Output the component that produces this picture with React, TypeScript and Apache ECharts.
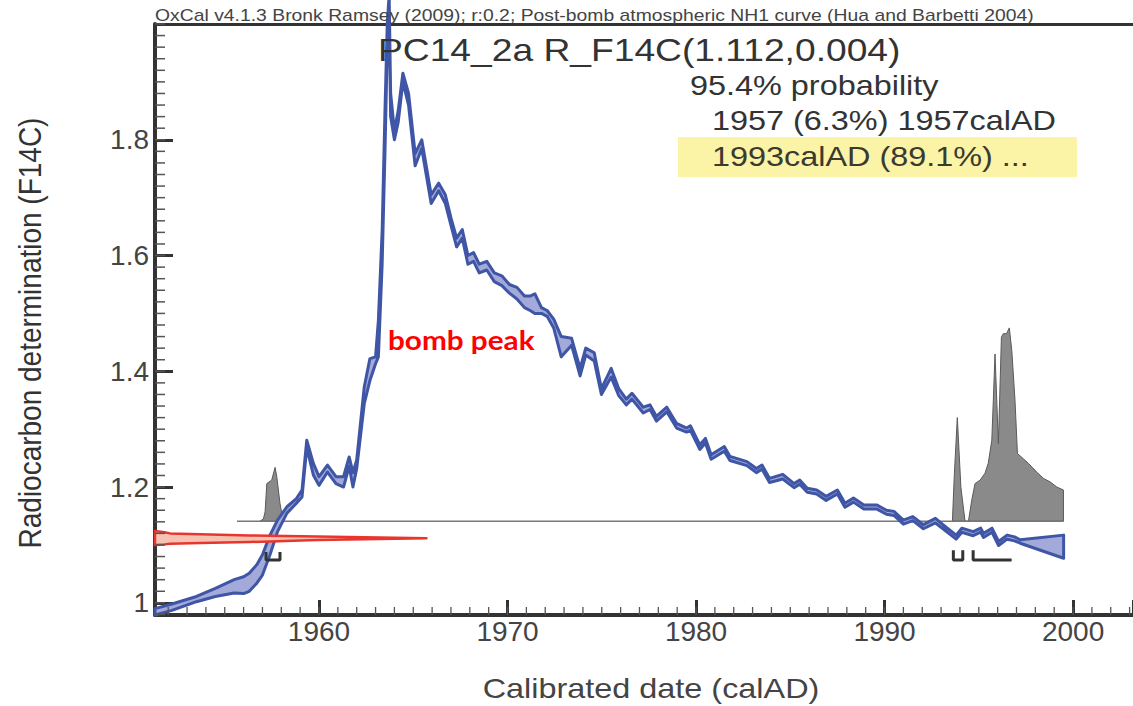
import React, { useEffect, useRef } from "react";
import * as echarts from "echarts";

// ---------- texts ----------
const headerText =
  "OxCal v4.1.3 Bronk Ramsey (2009); r:0.2; Post-bomb atmospheric NH1 curve (Hua and Barbetti 2004)";
const titleText = "PC14_2a R_F14C(1.112,0.004)";
const probLines = ["95.4% probability", "1957 (6.3%) 1957calAD", "1993calAD (89.1%) ..."];
const xTitle = "Calibrated date (calAD)";
const yTitle = "Radiocarbon determination (F14C)";
const annotationText = "bomb peak";

// ---------- axes ----------
const xMin = 1951.3;
const xMax = 2003.18;
const yMin = 0.979;
const yMax = 2.0;
const xMajorTicks = [1960, 1970, 1980, 1990, 2000];
const yMajorTicks = [1.0, 1.2, 1.4, 1.6, 1.8];

// ---------- calibration curve (NH1 band) ----------
const curveYears = [
  1951.3, 1952.2, 1953.5, 1954.5, 1955.5, 1956.0, 1956.3, 1956.7, 1957.0, 1957.4, 1957.8, 1958.3,
  1958.8, 1959.1, 1959.35, 1959.7, 1960.0, 1960.45, 1960.9, 1961.3, 1961.6, 1961.8, 1962.0, 1962.4,
  1962.7, 1963.0, 1963.15, 1963.35, 1963.5, 1963.62, 1963.72, 1963.8, 1964.0, 1964.2, 1964.45,
  1964.75, 1965.1, 1965.45, 1965.95, 1966.35, 1966.7, 1967.0, 1967.3, 1967.6, 1967.9, 1968.2,
  1968.5, 1968.9, 1969.3, 1969.7, 1970.1, 1970.5, 1970.9, 1971.2, 1971.45, 1971.8, 1972.1, 1972.45,
  1972.85, 1973.4, 1973.85, 1974.15, 1974.6, 1974.98, 1975.5, 1975.9, 1976.3, 1976.6, 1977.2,
  1977.56, 1977.9, 1978.45, 1978.97, 1979.5, 1979.7, 1980.2, 1980.5, 1980.8, 1981.5, 1981.8, 1982.7,
  1983.2, 1983.5, 1983.9, 1984.6, 1985.2, 1985.5, 1985.9, 1986.4, 1986.9, 1987.5, 1987.9, 1988.35,
  1988.9, 1989.6, 1990.1, 1990.5, 1991.0, 1991.5, 1992.06, 1992.7, 1993.1, 1993.8, 1994.1, 1994.7,
  1995.1, 1995.25, 1995.7, 1996.05, 1996.5, 1996.9, 1997.2, 1999.5,
];
const curveUpper = [
  0.99, 0.998, 1.011, 1.025, 1.04, 1.045, 1.051, 1.066, 1.083, 1.117, 1.143, 1.166, 1.18, 1.195,
  1.281, 1.241, 1.218, 1.238, 1.218, 1.218, 1.252, 1.225, 1.247, 1.373, 1.422, 1.425, 1.488, 1.643,
  1.85, 2.0, 2.05, 1.88, 1.815, 1.85, 1.915, 1.88, 1.776, 1.8, 1.705, 1.725, 1.705, 1.665, 1.63,
  1.645, 1.6, 1.605, 1.585, 1.59, 1.57, 1.565, 1.55, 1.545, 1.53, 1.53, 1.534, 1.51, 1.505, 1.49,
  1.46, 1.457, 1.405, 1.44, 1.432, 1.37, 1.405, 1.37, 1.352, 1.362, 1.338, 1.342, 1.322, 1.338,
  1.31, 1.302, 1.306, 1.273, 1.284, 1.256, 1.27, 1.253, 1.244, 1.232, 1.238, 1.215, 1.222, 1.206,
  1.212, 1.198, 1.195, 1.184, 1.195, 1.172, 1.181, 1.169, 1.169, 1.16, 1.158, 1.143, 1.149, 1.135,
  1.146, 1.135, 1.117, 1.129, 1.123, 1.129, 1.12, 1.129, 1.106, 1.117, 1.114, 1.109, 1.117,
];
const curveLower = [
  0.979, 0.987, 1.002, 1.011, 1.017, 1.016, 1.02, 1.034, 1.048, 1.083, 1.123, 1.155, 1.172, 1.183,
  1.268, 1.221, 1.203, 1.226, 1.206, 1.2, 1.236, 1.2, 1.232, 1.344, 1.384, 1.413, 1.425, 1.586, 1.78,
  1.96, 2.02, 1.84, 1.8, 1.83, 1.9, 1.86, 1.755, 1.785, 1.69, 1.712, 1.69, 1.652, 1.615, 1.63, 1.585,
  1.59, 1.57, 1.575, 1.555, 1.548, 1.535, 1.525, 1.51, 1.505, 1.5, 1.5, 1.495, 1.475, 1.425, 1.445,
  1.392, 1.428, 1.418, 1.36, 1.39, 1.358, 1.342, 1.352, 1.328, 1.334, 1.314, 1.33, 1.302, 1.295,
  1.298, 1.265, 1.276, 1.248, 1.262, 1.246, 1.237, 1.225, 1.231, 1.208, 1.214, 1.199, 1.205, 1.191,
  1.188, 1.177, 1.188, 1.165, 1.174, 1.162, 1.162, 1.153, 1.151, 1.136, 1.142, 1.128, 1.138, 1.128,
  1.11, 1.122, 1.116, 1.122, 1.113, 1.122, 1.099, 1.11, 1.107, 1.103, 1.077,
];

// ---------- measurement distribution (red, on the y axis) ----------
const measYears = [1951.3, 1951.8, 1952.1, 1953.7, 1956.3, 1959.9, 1965.7];
const measUpper = [1.124, 1.122, 1.12, 1.1185, 1.1165, 1.1145, 1.1115];
const measLower = [1.1, 1.101, 1.102, 1.1035, 1.105, 1.1085, 1.1115];

// ---------- posterior distribution (grey) ----------
const postBase = 1.141;
const postYearsA = [1956.87, 1957.05, 1957.14, 1957.23, 1957.49, 1957.67, 1957.76, 1957.93, 1958.1];
const postValsA = [1.141, 1.145, 1.157, 1.206, 1.212, 1.234, 1.218, 1.172, 1.141];
const postYearsB = [
  1993.6, 1993.7, 1993.86, 1994.05, 1994.27, 1994.45, 1994.63, 1994.8, 1995.07, 1995.33, 1995.5,
  1995.69, 1995.77, 1995.86, 1996.04, 1996.2, 1996.3, 1996.47, 1996.62, 1996.75, 1996.92, 1997.05,
  1997.36, 1997.63, 1998.07, 1998.43, 1998.78, 1999.14, 1999.49,
];
const postValsB = [
  1.141, 1.22, 1.32, 1.2, 1.141, 1.141, 1.178, 1.206, 1.212, 1.224, 1.241, 1.281, 1.35, 1.43, 1.275,
  1.459, 1.465, 1.465, 1.475, 1.436, 1.35, 1.258, 1.249, 1.241, 1.226, 1.215, 1.209, 1.2, 1.195,
];
const baselineYears = [1955.65, 1999.49];

// ---------- 95.4% ranges ----------
const rangeStarts = [1957.19, 1993.65, 1994.7];
const rangeEnds = [1957.93, 1994.15, 1996.74];
const rangeTop = [1.088, 1.091, 1.091];
const rangeBottom = 1.074;

const FONT = "'Liberation Sans', Arial, Helvetica, sans-serif";

// tick lengths in pixels, converted through the grid scale
const PX_PER_YEAR = 978 / (xMax - xMin);
const PX_PER_UNIT = 591 / (yMax - yMin);

function bandSeries(name: string, xs: number[], top: number[], bottom: number[], style: any, z: number) {
  const mid = Math.floor(xs.length / 2);
  return {
    type: "custom",
    name,
    xAxisIndex: 0,
    yAxisIndex: 0,
    silent: true,
    clip: false,
    z,
    data: [[xs[mid], top[mid]]],
    renderItem: (_params: any, api: any) => {
      const pts: number[][] = [];
      for (let i = 0; i < xs.length; i++) pts.push(api.coord([xs[i], top[i]]));
      for (let i = xs.length - 1; i >= 0; i--) pts.push(api.coord([xs[i], bottom[i]]));
      return { type: "polygon", shape: { points: pts }, style };
    },
  };
}

export default function App() {
  const ref = useRef<HTMLDivElement>(null);

  useEffect(() => {
    if (!ref.current) return;
    const chart = echarts.init(ref.current, undefined, { renderer: "svg" });

    const yearTicks: number[] = [];
    for (let y = 1952; y <= 2003; y++) yearTicks.push(y);
    const yMinorTicks: number[] = [];
    for (let k = 49; k <= 100; k++) yMinorTicks.push(+(k * 0.02).toFixed(2));

    // minor/major tick marks as thin polygons through the scales (drawn first)
    const tickSeriesList: any[] = [];
    const addXTicks = (vals: number[], lenPx: number, wPx: number, color: string, nm: string) => {
      const hw = wPx / 2 / PX_PER_YEAR;
      const h = lenPx / PX_PER_UNIT;
      vals.forEach((v, i) => {
        tickSeriesList.push(
          bandSeries(nm + i, [v - hw, v + hw], [yMin + h, yMin + h], [yMin, yMin],
            { fill: color, stroke: color, lineWidth: 0.01 }, 9)
        );
      });
    };
    const addYTicks = (vals: number[], lenPx: number, wPx: number, color: string, nm: string) => {
      const hw = wPx / 2 / PX_PER_UNIT;
      const w = lenPx / PX_PER_YEAR;
      vals.forEach((v, i) => {
        tickSeriesList.push(
          bandSeries(nm + i, [xMin, xMin + w], [v + hw, v + hw], [v - hw, v - hw],
            { fill: color, stroke: color, lineWidth: 0.01 }, 9)
        );
      });
    };
    addXTicks(yearTicks, 8, 1.3, "#555", "xm");
    addYTicks(yMinorTicks, 10, 1.5, "#555", "ym");

    const rangeSeries = rangeStarts.map((s, i) => {
      const pts =
        i === 2
          ? [
              [s, rangeTop[i]],
              [s, rangeBottom],
              [rangeEnds[i], rangeBottom],
            ]
          : [
              [s, rangeTop[i]],
              [s, rangeBottom],
              [rangeEnds[i], rangeBottom],
              [rangeEnds[i], rangeTop[i]],
            ];
      return {
        type: "line",
        name: "range" + i,
        xAxisIndex: 0,
        yAxisIndex: 0,
        data: pts,
        symbol: "none",
        silent: true,
        z: 6,
        lineStyle: { color: "#333", width: 3 },
      };
    });

    const baseTop = postYearsA.map(() => postBase);
    const baseTopB = postYearsB.map(() => postBase);

    const option: any = {
      animation: false,
      grid: { left: 155, top: 24, right: 0, bottom: 91, containLabel: false },
      xAxis: [
        {
          type: "value",
          min: xMin,
          max: xMax,
          position: "bottom",
          axisLine: { show: true, onZero: false, lineStyle: { color: "#333", width: 4 } },
          axisTick: { show: true, inside: true, length: 15, lineStyle: { color: "#333", width: 3 } },
          axisLabel: {
            show: true,
            customValues: xMajorTicks,
            fontSize: 28,
            color: "#444",
            fontFamily: FONT,
            margin: 2,
            formatter: (v: number) => String(Math.round(v)),
          },
          splitLine: { show: false },
        },
        {
          type: "value",
          min: xMin,
          max: xMax,
          position: "top",
          axisLine: { show: true, onZero: false, lineStyle: { color: "#333", width: 3 } },
          axisTick: { show: false },
          axisLabel: { show: false },
          splitLine: { show: false },
        },
      ],
      yAxis: [
        {
          type: "value",
          min: yMin,
          max: yMax,
          position: "left",
          axisLine: { show: true, onZero: false, lineStyle: { color: "#333", width: 4 } },
          axisTick: { show: true, inside: true, length: 18, lineStyle: { color: "#333", width: 3 } },
          axisLabel: {
            show: true,
            customValues: yMajorTicks,
            fontSize: 28,
            color: "#444",
            fontFamily: FONT,
            margin: 6,
            formatter: (v: number) => (Math.abs(v - 1) < 1e-9 ? "1" : v.toFixed(1)),
          },
          splitLine: { show: false },
        },
      ],
      series: [
        ...tickSeriesList,
        bandSeries("posteriorA", postYearsA, postValsA, baseTop,
          { fill: "#8a8a8a", stroke: "#5a5a5a", lineWidth: 1 }, 2),
        bandSeries("posteriorB", postYearsB, postValsB, baseTopB,
          { fill: "#8a8a8a", stroke: "#5a5a5a", lineWidth: 1 }, 2),
        {
          type: "line",
          name: "baseline",
          xAxisIndex: 0,
          yAxisIndex: 0,
          data: baselineYears.map((x) => [x, postBase]),
          symbol: "none",
          silent: true,
          z: 2,
          lineStyle: { color: "#777", width: 1.5 },
        },
        bandSeries("NH1 curve", curveYears, curveUpper, curveLower,
          { fill: "#a3aad9", stroke: "#3f55a6", lineWidth: 3, lineJoin: "round" }, 3),
        bandSeries("R_F14C", measYears, measUpper, measLower,
          { fill: "#f6c3b2", stroke: "#e8362f", lineWidth: 2.5, lineJoin: "round" }, 4),
        ...rangeSeries,
      ],
      graphic: [
        {
          type: "rect",
          shape: { x: 678, y: 137, width: 399, height: 40 },
          style: { fill: "#fbf3a6" },
          z: 0,
        },
        {
          type: "text",
          x: 155,
          y: 16,
          scaleX: 1.21,
          style: { text: headerText, fontSize: 16, fontFamily: FONT, fill: "#444", align: "left", verticalAlign: "middle" },
          z: 10,
        },
        {
          type: "text",
          x: 378,
          y: 50,
          scaleX: 1.2,
          style: { text: titleText, fontSize: 31, fontFamily: FONT, fill: "#333", align: "left", verticalAlign: "middle" },
          z: 10,
        },
        {
          type: "text",
          x: 690,
          y: 85,
          scaleX: 1.2,
          style: { text: probLines[0], fontSize: 27, fontFamily: FONT, fill: "#333", align: "left", verticalAlign: "middle" },
          z: 10,
        },
        {
          type: "text",
          x: 712,
          y: 120,
          scaleX: 1.2,
          style: { text: probLines[1], fontSize: 27, fontFamily: FONT, fill: "#333", align: "left", verticalAlign: "middle" },
          z: 10,
        },
        {
          type: "text",
          x: 712,
          y: 156,
          scaleX: 1.2,
          style: { text: probLines[2], fontSize: 27, fontFamily: FONT, fill: "#3a3a30", align: "left", verticalAlign: "middle" },
          z: 10,
        },
        {
          type: "text",
          x: 388,
          y: 340,
          scaleX: 1.1,
          style: { text: annotationText, fontSize: 27, fontWeight: "bold", fontFamily: "Lato, 'Open Sans', sans-serif", fill: "#ff0000", align: "left", verticalAlign: "middle" },
          z: 10,
        },
        {
          type: "text",
          x: 651,
          y: 688,
          scaleX: 1.2,
          style: { text: xTitle, fontSize: 27, fontFamily: FONT, fill: "#444", align: "center", verticalAlign: "middle" },
          z: 10,
        },
        {
          type: "text",
          x: 30,
          y: 333,
          rotation: Math.PI / 2,
          scaleY: 1.15,
          style: { text: yTitle, fontSize: 28, fontFamily: FONT, fill: "#333", align: "center", verticalAlign: "middle" },
          z: 10,
        },
      ],
    };

    chart.setOption(option);
    return () => chart.dispose();
  }, []);

  return (
    <div
      ref={ref}
      style={{ position: "fixed", left: 0, top: 0, width: 1133, height: 706, background: "#fff" }}
    />
  );
}
